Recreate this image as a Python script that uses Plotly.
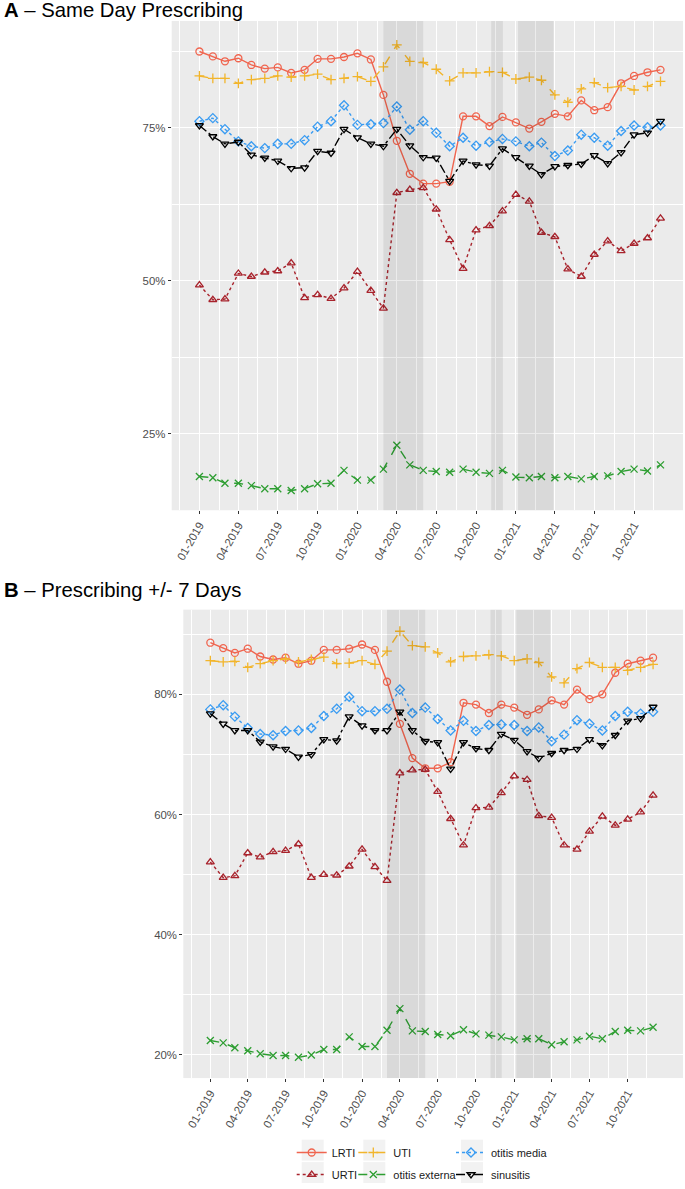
import plotly.graph_objects as go
from datetime import date, timedelta

W, H = 685, 1189

# ---------------- data ----------------
months = [f"{y}-{m:02d}-01" for y in (2019, 2020, 2021) for m in range(1, 13)]
tick_months = months[::3]
tick_labels = [f"{m[5:7]}-{m[:4]}" for m in tick_months]

series_names = ["LRTI", "URTI", "UTI", "otitis externa", "otitis media", "sinusitis"]

# Panel A - Same Day Prescribing (%)
lrti_a = [87.5, 86.7, 85.9, 86.4, 85.3, 84.7, 84.9, 84.0, 84.5, 86.3, 86.3, 86.6,
          87.2, 86.2, 80.4, 72.9, 67.5, 65.9, 65.9, 66.2, 76.9, 76.9, 75.3, 76.8,
          75.9, 74.9, 76.0, 77.3, 76.9, 79.5, 77.9, 78.4, 82.3, 83.5, 84.1, 84.5]
urti_a = [49.3, 46.9, 47.0, 51.2, 50.7, 51.4, 51.6, 52.9, 47.2, 47.7, 47.1, 48.8,
          51.5, 48.4, 45.5, 64.4, 64.9, 65.2, 61.7, 56.7, 52.0, 58.3, 59.0, 61.4,
          64.1, 63.0, 57.9, 57.2, 51.9, 50.7, 54.3, 56.5, 54.9, 56.1, 57.0, 60.2]
uti_a = [83.5, 83.1, 83.1, 82.3, 82.9, 83.1, 83.5, 83.3, 83.5, 83.8, 82.9, 83.1,
         83.4, 82.6, 85.0, 88.6, 85.9, 85.7, 84.6, 82.7, 84.0, 84.0, 84.2, 84.1,
         83.0, 83.3, 82.8, 80.4, 79.2, 81.4, 82.4, 81.6, 81.8, 81.2, 81.8, 82.6]
otext_a = [18.0, 17.8, 16.9, 16.9, 16.5, 16.0, 16.0, 15.7, 16.0, 16.8, 16.9, 19.0,
           17.4, 17.4, 19.2, 23.1, 19.9, 19.0, 18.8, 18.7, 19.2, 18.7, 18.5, 19.0,
           17.9, 17.8, 18.0, 17.8, 18.0, 17.6, 18.0, 18.1, 18.8, 19.2, 18.9, 19.9]
otmed_a = [76.1, 76.6, 74.8, 72.8, 72.0, 71.7, 72.4, 72.4, 73.0, 75.2, 76.1, 78.7,
           75.5, 75.6, 75.8, 78.5, 74.7, 76.1, 74.2, 72.0, 73.4, 72.1, 72.7, 73.2,
           72.8, 72.0, 72.6, 70.4, 71.3, 73.9, 73.4, 72.1, 74.5, 75.4, 75.1, 75.4]
sinus_a = [75.4, 73.6, 72.4, 72.7, 70.6, 70.1, 69.6, 68.4, 68.5, 71.2, 70.9, 74.8,
           73.4, 72.4, 72.0, 74.8, 72.1, 70.2, 70.1, 66.3, 69.6, 69.0, 68.8, 71.6,
           70.2, 68.8, 67.4, 68.7, 68.9, 69.1, 70.5, 69.2, 71.0, 73.9, 74.2, 76.1]

# Panel B - Prescribing +/- 7 Days (%)
lrti_b = [88.6, 87.7, 86.9, 87.6, 86.3, 85.8, 86.1, 85.1, 85.6, 87.4, 87.4, 87.6,
          88.3, 87.4, 82.1, 75.1, 69.4, 67.7, 67.7, 68.7, 78.6, 78.3, 76.9, 78.3,
          77.8, 76.6, 77.5, 79.0, 78.3, 80.8, 79.2, 80.0, 83.6, 85.1, 85.6, 86.1]
urti_b = [52.1, 49.5, 49.8, 53.6, 52.9, 53.8, 54.0, 55.1, 49.5, 50.0, 49.9, 51.4,
          54.2, 51.3, 49.0, 66.9, 67.4, 67.5, 63.8, 59.3, 54.9, 61.1, 61.2, 63.6,
          66.4, 65.8, 59.8, 59.5, 54.9, 54.2, 57.2, 59.7, 58.2, 59.2, 60.4, 63.2]
uti_b = [85.6, 85.4, 85.5, 84.5, 85.1, 85.6, 85.9, 85.4, 85.8, 86.2, 85.1, 85.2,
         85.6, 85.0, 87.2, 90.5, 88.1, 87.9, 86.9, 85.4, 86.3, 86.4, 86.6, 86.4,
         85.6, 85.9, 85.3, 82.9, 81.9, 84.3, 85.3, 84.5, 84.5, 84.0, 84.5, 85.0]
otext_b = [22.4, 22.0, 21.2, 20.7, 20.2, 19.9, 19.9, 19.6, 20.0, 20.9, 20.9, 23.0,
           21.4, 21.4, 24.1, 27.7, 24.0, 23.9, 23.4, 23.2, 24.2, 23.5, 23.3, 23.0,
           22.5, 22.7, 22.7, 21.7, 22.2, 22.5, 23.1, 22.7, 23.9, 24.1, 24.0, 24.6]
otmed_b = [77.5, 78.2, 76.3, 74.4, 73.4, 73.2, 73.9, 74.0, 74.4, 76.4, 77.6, 79.6,
           77.2, 77.2, 77.6, 80.8, 76.9, 77.8, 75.9, 74.0, 75.6, 73.9, 74.9, 75.0,
           74.9, 73.9, 74.5, 72.2, 73.3, 75.7, 75.1, 74.0, 76.4, 77.1, 76.8, 77.1]
sinus_b = [76.8, 75.1, 74.0, 74.0, 72.1, 71.3, 70.9, 69.6, 70.0, 72.5, 72.3, 76.3,
           74.8, 74.0, 74.0, 77.1, 74.0, 72.2, 72.0, 67.6, 72.0, 71.0, 70.7, 73.4,
           72.4, 70.5, 69.4, 70.2, 70.7, 70.9, 72.5, 71.5, 73.2, 75.6, 76.0, 77.9]

# lockdown periods (shaded)
band_starts = ["2020-03-01", "2020-11-05", "2021-01-06"]
band_ends = ["2020-06-01", "2020-12-02", "2021-03-29"]

# ---------------- styles ----------------
colors = {"LRTI": "#F0654F", "URTI": "#A8232C", "UTI": "#F2B52B",
          "otitis externa": "#2E9E32", "otitis media": "#3A9CF2", "sinusitis": "#000000"}
dashes = {"LRTI": "solid", "URTI": "dot", "UTI": "dash",
          "otitis externa": "dash", "otitis media": "dot", "sinusitis": "dashdot"}
symbols = {"LRTI": "circle-open", "URTI": "triangle-up-open", "UTI": "cross-thin-open",
           "otitis externa": "x-thin-open", "otitis media": "diamond-open",
           "sinusitis": "triangle-down-open"}
legend_of = {"LRTI": "legend", "URTI": "legend", "UTI": "legend2",
             "otitis externa": "legend2", "otitis media": "legend3", "sinusitis": "legend3"}

panel_a = dict(zip(series_names, [lrti_a, urti_a, uti_a, otext_a, otmed_a, sinus_a]))
panel_b = dict(zip(series_names, [lrti_b, urti_b, uti_b, otext_b, otmed_b, sinus_b]))

FONT = "Liberation Sans, Arial, Helvetica, sans-serif"

fig = go.Figure()

for panel, (xa, ya, showleg) in ((panel_a, ("x", "y", True)), (panel_b, ("x2", "y2", False))):
    for name in series_names:
        fig.add_trace(go.Scatter(
            x=months, y=panel[name], mode="lines+markers", name=name,
            xaxis=xa, yaxis=ya, showlegend=showleg, legend=legend_of[name],
            legendgroup=name,
            line=dict(color=colors[name], width=1.4, dash=dashes[name]),
            marker=dict(symbol=symbols[name], size=7, color=colors[name],
                        line=dict(color=colors[name], width=1.3)),
        ))

# ---------------- geometry (pixels) ----------------
def px_x(p):
    return p / W

def px_y(p):
    return 1 - p / H

A = dict(left=171.7, right=683.0, top=21.0, bottom=512.0, x0=199.3, ppd=0.4329)
B = dict(left=183.3, right=683.0, top=611.7, bottom=1081.7, x0=210.0, ppd=0.4157)

def date_range(P):
    d0 = date(2019, 1, 1)
    lo = d0 + timedelta(days=(P["left"] - P["x0"]) / P["ppd"])
    hi = d0 + timedelta(days=(P["right"] - P["x0"]) / P["ppd"])
    return [lo.isoformat(), hi.isoformat()]

TICKFONT = dict(family=FONT, size=11.4, color="#4D4D4D")

def xaxis_cfg(P, anchor):
    return dict(
        type="date", domain=[px_x(P["left"]), px_x(P["right"])], range=date_range(P),
        anchor=anchor, tickmode="array", tickvals=tick_months, ticktext=tick_labels,
        tickangle=-60, ticks="outside", ticklen=3, tickwidth=1, tickcolor="#333333",
        tickfont=TICKFONT,
        showgrid=True, gridcolor="white", gridwidth=1.1, zeroline=False, showline=False,
        minor=dict(dtick="M3", tick0="2018-11-16", showgrid=True, gridcolor="white",
                   gridwidth=0.5, ticks=""),
    )

def yaxis_cfg(P, anchor, rng, step, minor0):
    return dict(
        domain=[px_y(P["bottom"]), px_y(P["top"])], range=rng, anchor=anchor,
        dtick=step, tick0=0, ticksuffix="%", ticks="outside", ticklen=3, tickwidth=1,
        tickcolor="#333333", tickfont=TICKFONT,
        showgrid=True, gridcolor="white", gridwidth=1.1, zeroline=False, showline=False,
        minor=dict(dtick=step, tick0=minor0, showgrid=True, gridcolor="white",
                   gridwidth=0.5, ticks=""),
    )

shapes = []
for xr, yr in (("x", "y"), ("x2", "y2")):
    for s, e in zip(band_starts, band_ends):
        shapes.append(dict(type="rect", xref=xr, yref=f"{yr} domain", x0=s, x1=e, y0=0, y1=1,
                           fillcolor="rgba(0,0,0,0.075)", line=dict(width=0), layer="above"))

# legend key backgrounds
label_x = [331.7, 393.3, 491.0]
row_centers = [1154.0, 1176.5]
for lx in label_x:
    cx = lx - 19
    for rc in row_centers:
        shapes.append(dict(type="rect", xref="paper", yref="paper",
                           x0=px_x(cx - 11), x1=px_x(cx + 11),
                           y0=px_y(rc + 10.5), y1=px_y(rc - 10.5),
                           fillcolor="#F2F2F2", line=dict(width=0), layer="below"))

legend_common = dict(orientation="v", xanchor="left", yanchor="top",
                     bgcolor="rgba(0,0,0,0)", borderwidth=0, tracegroupgap=3,
                     font=dict(family=FONT, size=11, color="#1A1A1A"), itemwidth=30)

LEG_OFF = 40
LEG_TOP = 1142
fig.update_layout(
    width=W, height=H, margin=dict(l=0, r=0, t=0, b=0),
    paper_bgcolor="white", plot_bgcolor="#EBEBEB",
    xaxis=xaxis_cfg(A, "y"), yaxis=yaxis_cfg(A, "x", [12.47, 92.5], 25, 12.5),
    xaxis2=xaxis_cfg(B, "y2"), yaxis2=yaxis_cfg(B, "x2", [16.15, 94.1], 20, 10),
    shapes=shapes,
    legend=dict(x=px_x(label_x[0] - LEG_OFF), y=px_y(LEG_TOP), **legend_common),
    legend2=dict(x=px_x(label_x[1] - LEG_OFF), y=px_y(LEG_TOP), **legend_common),
    legend3=dict(x=px_x(label_x[2] - LEG_OFF), y=px_y(LEG_TOP), **legend_common),
    annotations=[
        dict(text="<b>A</b> – Same Day Prescribing", xref="paper", yref="paper",
             x=px_x(2), y=px_y(10), xanchor="left", yanchor="middle", showarrow=False,
             font=dict(family=FONT, size=20.3, color="black")),
        dict(text="<b>B</b> – Prescribing +/- 7 Days", xref="paper", yref="paper",
             x=px_x(2), y=px_y(592), xanchor="left", yanchor="middle", showarrow=False,
             font=dict(family=FONT, size=20.3, color="black")),
    ],
)

fig.write_html("out.html", config={"displayModeBar": False},
               post_script="document.body.style.margin='0px';")
